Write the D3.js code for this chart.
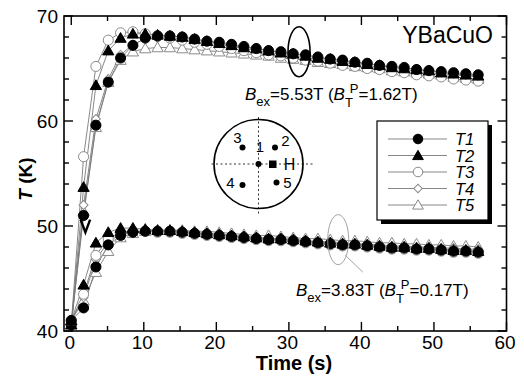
<!DOCTYPE html>
<html>
<head>
<meta charset="utf-8">
<script src="https://cdn.jsdelivr.net/npm/d3@7"></script>
<style>
  html, body { margin: 0; padding: 0; background: #fff; }
  svg { display: block; font-family: "Liberation Sans", Arial, Helvetica, sans-serif; }
</style>
</head>
<body>
<svg id="chart" width="524" height="380"></svg>
<script>
// ---------------- DATA ----------------
const times = [0, 1.7, 3.4, 5.1, 6.8, 8.5, 10.2, 11.9, 13.6, 15.3, 17.0, 18.7, 20.4, 22.1, 23.8, 25.5, 27.2,
  28.9, 30.6, 32.3, 34.0, 35.7, 37.4, 39.1, 40.8, 42.5, 44.2, 45.9, 47.6, 49.3, 51.0, 52.7, 54.4, 56.1];

const seriesNames = ["T1", "T2", "T3", "T4", "T5"];

// upper group: Bex = 5.53 T
const hiT1 = [40.6, 51.0, 59.6, 63.7, 66.0, 67.2, 67.9, 68.1, 68.1, 68.0, 67.8, 67.6, 67.5, 67.3, 67.1, 66.9, 66.7,
  66.6, 66.4, 66.3, 66.1, 65.9, 65.8, 65.6, 65.5, 65.3, 65.2, 65.1, 64.9, 64.8, 64.7, 64.6, 64.5, 64.4];
const hiT2 = [40.6, 53.7, 63.4, 66.7, 67.9, 68.3, 68.3, 68.2, 68.1, 68.0, 67.8, 67.6, 67.4, 67.2, 67.0, 66.9, 66.7,
  66.5, 66.4, 66.2, 66.0, 65.9, 65.7, 65.6, 65.4, 65.3, 65.1, 65.0, 64.9, 64.8, 64.6, 64.5, 64.4, 64.3];
const hiT3 = [40.6, 56.6, 65.2, 67.7, 68.4, 68.5, 68.3, 68.1, 67.9, 67.7, 67.5, 67.3, 67.1, 66.9, 66.7, 66.5, 66.3,
  66.2, 66.0, 65.8, 65.7, 65.5, 65.3, 65.2, 65.0, 64.9, 64.7, 64.6, 64.4, 64.3, 64.2, 64.0, 63.9, 63.8];
const hiT4 = [40.6, 52.0, 60.2, 64.0, 66.3, 67.3, 67.8, 67.9, 67.9, 67.8, 67.6, 67.4, 67.3, 67.1, 66.9, 66.7, 66.5,
  66.4, 66.2, 66.0, 65.9, 65.7, 65.6, 65.4, 65.3, 65.1, 65.0, 64.9, 64.7, 64.6, 64.5, 64.4, 64.3, 64.2];
const hiT5 = [40.6, 51.4, 59.4, 63.7, 65.8, 66.6, 66.9, 67.0, 67.0, 66.9, 66.8, 66.7, 66.6, 66.5, 66.4, 66.3, 66.2,
  66.0, 65.9, 65.8, 65.6, 65.5, 65.4, 65.2, 65.1, 65.0, 64.8, 64.7, 64.6, 64.5, 64.4, 64.2, 64.1, 64.0];

// lower group: Bex = 3.83 T
const loT1 = [41.0, 42.2, 46.1, 48.2, 49.1, 49.4, 49.5, 49.5, 49.5, 49.4, 49.3, 49.2, 49.1, 49.0, 48.9, 48.8, 48.7,
  48.7, 48.6, 48.5, 48.4, 48.3, 48.2, 48.2, 48.1, 48.0, 47.9, 47.9, 47.8, 47.8, 47.7, 47.6, 47.6, 47.5];
const loT2 = [41.0, 44.4, 48.4, 49.4, 49.8, 49.8, 49.7, 49.6, 49.6, 49.5, 49.4, 49.3, 49.2, 49.1, 49.0, 48.9, 48.8,
  48.8, 48.7, 48.6, 48.5, 48.4, 48.3, 48.3, 48.2, 48.1, 48.0, 48.0, 47.9, 47.9, 47.8, 47.7, 47.7, 47.6];
const loT3 = [41.0, 43.5, 47.2, 48.8, 49.4, 49.5, 49.5, 49.4, 49.4, 49.3, 49.2, 49.1, 49.0, 48.9, 48.8, 48.7, 48.6,
  48.6, 48.5, 48.4, 48.3, 48.2, 48.1, 48.1, 48.0, 47.9, 47.8, 47.8, 47.7, 47.7, 47.6, 47.5, 47.5, 47.4];
const loT4 = [41.0, 43.2, 46.8, 48.5, 49.2, 49.4, 49.5, 49.5, 49.5, 49.4, 49.3, 49.3, 49.2, 49.1, 49.0, 48.9, 48.8,
  48.8, 48.7, 48.6, 48.5, 48.5, 48.4, 48.3, 48.3, 48.2, 48.1, 48.1, 48.0, 48.0, 47.9, 47.9, 47.8, 47.8];
const loT5 = [41.0, 42.9, 45.6, 47.6, 48.9, 49.3, 49.5, 49.6, 49.6, 49.6, 49.5, 49.5, 49.4, 49.3, 49.2, 49.1, 49.1,
  49.0, 48.9, 48.8, 48.8, 48.7, 48.6, 48.6, 48.5, 48.4, 48.4, 48.3, 48.3, 48.2, 48.2, 48.1, 48.1, 48.0];

const xTickMajor = [0, 10, 20, 30, 40, 50, 60];
const yTickMajor = [40, 50, 60, 70];
const titleText = "YBaCuO";
const xLabel = "Time (s)";

// ---------------- SETUP ----------------
const svg = d3.select("#chart");
const L = 64, R = 506.5, T = 16, B = 331;
const x = d3.scaleLinear().domain([-1, 60]).range([L, R]);
const y = d3.scaleLinear().domain([40, 70]).range([B, T]);

const GRAY = "#7a7a7a";
const OPEN = "#8a8a8a";

const styles = {
  T1: { shape: "circle", fill: "#000", stroke: "#000" },
  T2: { shape: "triangle", fill: "#000", stroke: "#000" },
  T3: { shape: "circle", fill: "#fff", stroke: OPEN },
  T4: { shape: "diamond", fill: "#fff", stroke: OPEN },
  T5: { shape: "triangle", fill: "#fff", stroke: OPEN }
};

function symbolPath(shape, scale) {
  const s = scale || 1;
  if (shape === "circle") return d3.symbol(d3.symbolCircle, 80 * s)();
  if (shape === "triangle") return d3.symbol(d3.symbolTriangle, 55 * s)();
  if (shape === "diamond") return d3.symbol(d3.symbolSquare, 40 * s)();
  return d3.symbol(d3.symbolCircle, 60 * s)();
}
function symbolTransform(shape, cx, cy) {
  if (shape === "diamond") return `translate(${cx},${cy}) rotate(45)`;
  if (shape === "triangle") return `translate(${cx},${cy + 1})`;
  return `translate(${cx},${cy})`;
}

const groups = [
  { T1: hiT1, T2: hiT2, T3: hiT3, T4: hiT4, T5: hiT5 },
  { T1: loT1, T2: loT2, T3: loT3, T4: loT4, T5: loT5 }
];

const line = d3.line().x((d, i) => x(times[i])).y(d => y(d));

const plot = svg.append("g");

// lines
groups.forEach(g => {
  seriesNames.forEach(name => {
    plot.append("path")
      .attr("d", line(g[name]))
      .attr("fill", "none")
      .attr("stroke", GRAY)
      .attr("stroke-width", 0.9);
  });
});

// markers (draw open first, filled last)
const drawOrder = ["T5", "T4", "T3", "T2", "T1"];
groups.forEach(g => {
  drawOrder.forEach(name => {
    const st = styles[name];
    plot.selectAll(null)
      .data(g[name])
      .enter()
      .append("path")
      .attr("d", symbolPath(st.shape))
      .attr("transform", (d, i) => symbolTransform(st.shape, x(times[i]), y(d)))
      .attr("fill", st.fill)
      .attr("stroke", st.stroke)
      .attr("stroke-width", 1);
  });
});

// ---------------- AXES ----------------
const xMinor = d3.range(0, 61, 5);
const yMinor = d3.range(40, 71, 2);

const ax = svg.append("g");
xMinor.forEach(v => {
  const maj = v % 10 === 0;
  const len = maj ? 9 : 5;
  ax.append("line").attr("x1", x(v)).attr("x2", x(v)).attr("y1", B).attr("y2", B - len)
    .attr("stroke", "#000").attr("stroke-width", 1.4);
  ax.append("line").attr("x1", x(v)).attr("x2", x(v)).attr("y1", T).attr("y2", T + len)
    .attr("stroke", "#000").attr("stroke-width", 1.4);
});
yMinor.forEach(v => {
  const maj = v % 10 === 0;
  const len = maj ? 9 : 5;
  ax.append("line").attr("x1", L).attr("x2", L + len).attr("y1", y(v)).attr("y2", y(v))
    .attr("stroke", "#000").attr("stroke-width", 1.4);
  ax.append("line").attr("x1", R).attr("x2", R - len).attr("y1", y(v)).attr("y2", y(v))
    .attr("stroke", "#000").attr("stroke-width", 1.4);
});
ax.append("rect").attr("x", L).attr("y", T).attr("width", R - L).attr("height", B - T)
  .attr("fill", "none").attr("stroke", "#000").attr("stroke-width", 1.6);

// tick labels via d3 axes (tick lines hidden)
const xAxis = d3.axisBottom(x).tickValues(xTickMajor).tickSize(0).tickPadding(5).tickFormat(d3.format("d"));
const gx = svg.append("g").attr("transform", `translate(0,${B})`).call(xAxis);
gx.select(".domain").remove();
gx.selectAll("text").attr("font-size", 19).attr("fill", "#000")
  .attr("font-family", "Liberation Sans, Arial, sans-serif").attr("dx", -2);

const yAxis = d3.axisLeft(y).tickValues(yTickMajor).tickSize(0).tickPadding(6).tickFormat(d3.format("d"));
const gy = svg.append("g").attr("transform", `translate(${L},0)`).call(yAxis);
gy.select(".domain").remove();
gy.selectAll("text").attr("font-size", 19).attr("fill", "#000")
  .attr("font-family", "Liberation Sans, Arial, sans-serif");

// axis titles
svg.append("text").attr("x", 294).attr("y", 370).attr("text-anchor", "middle")
  .attr("font-size", 20).attr("font-weight", "bold").text(xLabel);

const ylab = svg.append("text")
  .attr("transform", "translate(32,179) rotate(-90)")
  .attr("text-anchor", "middle").attr("font-size", 19).attr("font-weight", "bold");
ylab.append("tspan").attr("font-style", "italic").text("T");
ylab.append("tspan").text(" (K)");

// title
svg.append("text").attr("x", 493).attr("y", 43).attr("text-anchor", "end")
  .attr("font-size", 23).text(titleText);

// ---------------- ANNOTATIONS ----------------
function fieldLabel(px, py, bex, btp) {
  const t = svg.append("text").attr("x", px).attr("y", py).attr("font-size", 17);
  t.append("tspan").attr("font-style", "italic").text("B");
  t.append("tspan").attr("font-size", 13).attr("dy", 6).text("ex");
  t.append("tspan").attr("dy", -6).text("=" + bex + "T (");
  t.append("tspan").attr("font-style", "italic").text("B");
  t.append("tspan").attr("font-size", 13).attr("dy", 7).text("T");
  t.append("tspan").attr("font-size", 13).attr("dx", -3).attr("dy", -14).text("P");
  t.append("tspan").attr("dy", 7).text("=" + btp + "T)");
}
fieldLabel(245, 100, "5.53", "1.62");
fieldLabel(296, 296, "3.83", "0.17");

// upper ellipse (solid)
svg.append("ellipse").attr("cx", x(31.4)).attr("cy", y(66.6)).attr("rx", 11).attr("ry", 25)
  .attr("fill", "none").attr("stroke", "#000").attr("stroke-width", 1.6);
// lower ellipse (thin gray) + leader line
svg.append("ellipse").attr("cx", x(36.8)).attr("cy", y(48.7)).attr("rx", 10.5).attr("ry", 25)
  .attr("fill", "none").attr("stroke", "#999").attr("stroke-width", 0.9);
svg.append("line").attr("x1", x(37.8)).attr("y1", y(47.2)).attr("x2", x(40.2)).attr("y2", y(45.6))
  .attr("stroke", "#999").attr("stroke-width", 0.9);

// small down chevron near t≈2
svg.append("path")
  .attr("d", `M${x(1.3)},${y(50.6)} L${x(1.95)},${y(49.4)} L${x(2.6)},${y(50.6)}`)
  .attr("fill", "none").attr("stroke", "#000").attr("stroke-width", 2.4);

// ---------------- INSET (sensor positions) ----------------
const ins = svg.append("g");
const icx = 258.5, icy = 164, ir = 44.5;
ins.append("line").attr("x1", icx - 47).attr("x2", icx + 56).attr("y1", icy).attr("y2", icy)
  .attr("stroke", "#333").attr("stroke-width", 1).attr("stroke-dasharray", "2,2.5");
ins.append("line").attr("x1", icx).attr("x2", icx).attr("y1", icy - 47).attr("y2", icy + 51)
  .attr("stroke", "#333").attr("stroke-width", 1).attr("stroke-dasharray", "2,2.5");
ins.append("circle").attr("cx", icx).attr("cy", icy).attr("r", ir)
  .attr("fill", "none").attr("stroke", "#000").attr("stroke-width", 1.6);
const sensors = [
  { lab: "1", dx: 0, dy: 0, lx: 1.5, ly: -12 },
  { lab: "2", dx: 16.5, dy: -16.5, lx: 27, ly: -18 },
  { lab: "3", dx: -16, dy: -16.5, lx: -21, ly: -21 },
  { lab: "4", dx: -16, dy: 21, lx: -28, ly: 24 },
  { lab: "5", dx: 18, dy: 18.5, lx: 29, ly: 23.5 }
];
sensors.forEach(s => {
  ins.append("circle").attr("cx", icx + s.dx).attr("cy", icy + s.dy).attr("r", 3).attr("fill", "#000");
  ins.append("text").attr("x", icx + s.lx).attr("y", icy + s.ly).attr("text-anchor", "middle")
    .attr("font-size", 15).text(s.lab);
});
ins.append("rect").attr("x", icx + 10.5).attr("y", icy - 3.5).attr("width", 7.5).attr("height", 7.5).attr("fill", "#000");
ins.append("text").attr("x", icx + 31).attr("y", icy + 5.5).attr("text-anchor", "middle")
  .attr("font-size", 16).text("H");

// ---------------- LEGEND ----------------
const lg = svg.append("g");
const lx0 = 377, ly0 = 121, lw = 111, lh = 99;
lg.append("rect").attr("x", lx0 + 4).attr("y", ly0 + 4).attr("width", lw).attr("height", lh).attr("fill", "#000");
lg.append("rect").attr("x", lx0).attr("y", ly0).attr("width", lw).attr("height", lh)
  .attr("fill", "#fff").attr("stroke", "#000").attr("stroke-width", 1.2);
const legY = [139, 155.5, 172, 188.5, 205];
seriesNames.forEach((name, i) => {
  const st = styles[name];
  lg.append("line").attr("x1", 388).attr("x2", 447).attr("y1", legY[i]).attr("y2", legY[i])
    .attr("stroke", GRAY).attr("stroke-width", 0.9);
  lg.append("path").attr("d", symbolPath(st.shape, 0.9))
    .attr("transform", symbolTransform(st.shape, 418, legY[i]))
    .attr("fill", st.fill).attr("stroke", st.stroke).attr("stroke-width", 1);
  lg.append("text").attr("x", 455).attr("y", legY[i] + 6).attr("font-size", 16.5)
    .attr("font-style", "italic").text(name);
});
</script>
</body>
</html>
